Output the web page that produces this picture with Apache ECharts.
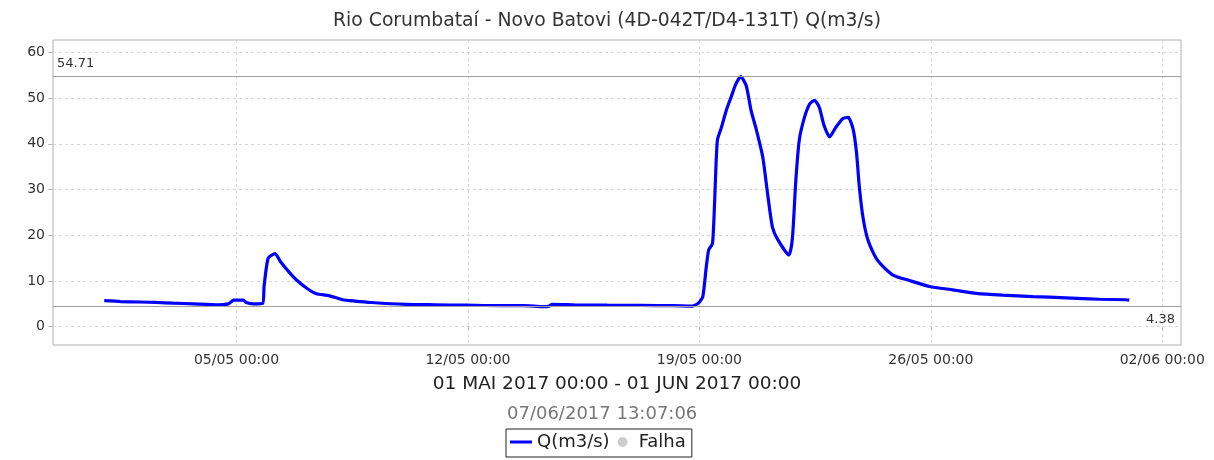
<!DOCTYPE html>
<html>
<head>
<meta charset="utf-8">
<script src="https://cdn.jsdelivr.net/npm/echarts@6/dist/echarts.min.js"></script>
<style>
  html, body { margin: 0; padding: 0; background: #ffffff; }
  #chart { width: 1214px; height: 460px; }
</style>
</head>
<body>
<div id="chart"></div>
<script>
// Flow readings, Rio Corumbataí at Novo Batovi, May 2017
const times = [
  '2017-05-01 00:00', '2017-05-01 12:00', '2017-05-02 02:00', '2017-05-02 14:00', '2017-05-03 02:00',
  '2017-05-03 17:00', '2017-05-04 10:00', '2017-05-04 18:00', '2017-05-04 22:00', '2017-05-05 05:00',
  '2017-05-05 07:00', '2017-05-05 12:00', '2017-05-05 19:00', '2017-05-05 20:00', '2017-05-05 23:00',
  '2017-05-06 04:00', '2017-05-06 08:00', '2017-05-06 14:00', '2017-05-06 20:00', '2017-05-07 03:00',
  '2017-05-07 10:00', '2017-05-07 19:00', '2017-05-08 05:00', '2017-05-08 14:00', '2017-05-09 02:00',
  '2017-05-10 03:00', '2017-05-11 00:00', '2017-05-11 23:00', '2017-05-13 00:00', '2017-05-13 16:00',
  '2017-05-14 00:00', '2017-05-14 06:00', '2017-05-14 11:00', '2017-05-14 13:00', '2017-05-15 05:00',
  '2017-05-16 05:00', '2017-05-17 05:00', '2017-05-18 05:00', '2017-05-18 19:00', '2017-05-18 23:30',
  '2017-05-19 02:30', '2017-05-19 05:00', '2017-05-19 06:45', '2017-05-19 09:30', '2017-05-19 11:00',
  '2017-05-19 13:00', '2017-05-19 16:00', '2017-05-19 19:30', '2017-05-19 23:00', '2017-05-20 02:30',
  '2017-05-20 06:00', '2017-05-20 10:00', '2017-05-20 13:30', '2017-05-20 17:30', '2017-05-20 22:00',
  '2017-05-21 01:30', '2017-05-21 05:00', '2017-05-21 09:00', '2017-05-21 17:00', '2017-05-21 19:30',
  '2017-05-21 22:00', '2017-05-22 00:30', '2017-05-22 04:00', '2017-05-22 08:00', '2017-05-22 11:30',
  '2017-05-22 15:00', '2017-05-22 18:30', '2017-05-22 22:30', '2017-05-23 03:00', '2017-05-23 08:00',
  '2017-05-23 12:00', '2017-05-23 15:30', '2017-05-23 18:00', '2017-05-23 20:00', '2017-05-23 22:30',
  '2017-05-24 02:00', '2017-05-24 07:00', '2017-05-24 11:00', '2017-05-24 20:30', '2017-05-25 08:30',
  '2017-05-25 23:00', '2017-05-26 16:00', '2017-05-27 09:00', '2017-05-28 04:00', '2017-05-29 02:00',
  '2017-05-30 02:00', '2017-05-31 02:30', '2017-05-31 21:30', '2017-06-01 00:00'
];
const flow = [
  5.7, 5.5, 5.4, 5.3, 5.15,
  5.0, 4.8, 5.0, 5.8, 5.8,
  5.3, 5.0, 5.1, 8.8, 15.0,
  16.0, 14.2, 12.0, 10.1, 8.4,
  7.2, 6.8, 5.9, 5.6, 5.3,
  4.9, 4.8, 4.7, 4.6, 4.6,
  4.5, 4.38, 4.5, 4.9, 4.8,
  4.7, 4.65, 4.6, 4.5, 5.2,
  6.6, 13.1, 16.8, 18.2, 26.9,
  40.7, 43.6, 47.3, 50.2, 53.1,
  54.71, 52.7, 47.3, 42.9, 37.1,
  29.1, 21.8, 19.0, 15.7, 19.3,
  32.0, 40.8, 45.5, 48.7, 49.5,
  48.0, 44.0, 41.5, 43.6, 45.5,
  45.8, 43.3, 38.2, 30.9, 24.4,
  19.3, 15.7, 13.9, 11.3, 10.1,
  8.8, 8.06, 7.3, 6.9, 6.6,
  6.3, 6.0, 5.9, 5.8
];
const tickTimes = ['2017-05-05 00:00', '2017-05-12 00:00', '2017-05-19 00:00', '2017-05-26 00:00', '2017-06-02 00:00'];
const yTicks = [0, 10, 20, 30, 40, 50, 60];
const flowMax = 54.71;
const flowMin = 4.38;
const axisStart = '2017-04-29 10:48';
const axisEnd = '2017-06-02 13:35';
const titleText = 'Rio Corumbataí - Novo Batovi (4D-042T/D4-131T) Q(m3/s)';
const periodText = '01 MAI 2017 00:00 - 01 JUN 2017 00:00';
const stampText = '07/06/2017 13:07:06';
const seriesName = 'Q(m3/s)';
const failName = 'Falha';

function parseTime(s) {
  const [d, t] = s.split(' ');
  const [Y, M, D] = d.split('-').map(Number);
  const [h, mi] = t.split(':').map(Number);
  return new Date(Y, M - 1, D, h, mi).getTime();
}
function pad(n) { return String(n).padStart(2, '0'); }
function fmtTick(v) {
  const d = new Date(v);
  return pad(d.getDate()) + '/' + pad(d.getMonth() + 1) + ' ' + pad(d.getHours()) + ':' + pad(d.getMinutes());
}

const points = times.map((t, i) => [parseTime(t), flow[i]]);
const xTickValues = tickTimes.map(parseTime);
const FONT = 'DejaVu Sans';

const chart = echarts.init(document.getElementById('chart'), null, { renderer: 'canvas' });
chart.setOption({
  animation: false,
  backgroundColor: '#ffffff',
  textStyle: { fontFamily: FONT },
  title: [
    { text: titleText, left: 'center', top: 7,
      textStyle: { fontFamily: FONT, fontSize: 18.8, fontWeight: 'normal', color: '#333' } },
    { text: stampText, left: 502, top: 400,
      textStyle: { fontFamily: FONT, fontSize: 18, fontWeight: 'normal', color: '#777' } }
  ],
  legend: {
    left: 506, top: 429,
    padding: [4, 6, 6, 4],
    itemGap: 8,
    itemWidth: 22, itemHeight: 10,
    borderColor: '#222', borderWidth: 1,
    textStyle: { fontFamily: FONT, fontSize: 18, color: '#222' },
    data: [
      { name: seriesName, icon: 'path://M0,0H22V3H0Z' },
      { name: failName, icon: 'circle' }
    ]
  },
  grid: {
    left: 53, right: 33, top: 40, bottom: 115,
    show: true, borderColor: '#b0b0b0', borderWidth: 1
  },
  xAxis: {
    type: 'value',
    scale: true,
    min: parseTime(axisStart),
    max: parseTime(axisEnd),
    name: periodText,
    nameLocation: 'middle',
    nameGap: 30,
    nameTextStyle: { fontFamily: FONT, fontSize: 18.5, color: '#222' },
    axisLine: { show: false },
    axisTick: { show: true, length: 4, customValues: xTickValues, lineStyle: { color: '#bbb' } },
    axisLabel: { customValues: xTickValues, formatter: fmtTick, fontSize: 14, color: '#333', margin: 8 },
    splitLine: { show: true, lineStyle: { color: '#d8d8d8', type: [3, 3], width: 1 } }
  },
  yAxis: {
    type: 'value',
    min: -4.0,
    max: 62.7,
    axisLine: { show: false },
    axisTick: { show: true, length: 5, customValues: yTicks, lineStyle: { color: '#bbb' } },
    axisLabel: { customValues: yTicks, fontSize: 14, color: '#333', margin: 8 },
    splitLine: { show: true, lineStyle: { color: '#d8d8d8', type: [3, 3], width: 1 } }
  },
  series: [
    {
      name: seriesName,
      type: 'line',
      data: points,
      symbol: 'none',
      smooth: 0.2,
      color: '#0000ff',
      lineStyle: { color: '#0000ff', width: 3.2 },
      markLine: {
        silent: true,
        symbol: 'none',
        lineStyle: { color: '#a0a0a0', type: 'solid', width: 1 },
        data: [
          { yAxis: flowMax, label: { show: true, position: 'insideStartTop', formatter: String(flowMax),
              fontFamily: FONT, fontSize: 13, color: '#333', distance: [4, 6] } },
          { yAxis: flowMin, label: { show: true, position: 'insideEndBottom', formatter: String(flowMin),
              fontFamily: FONT, fontSize: 13, color: '#333', distance: [6, 6] } }
        ]
      }
    },
    {
      name: failName,
      type: 'scatter',
      data: [],
      symbol: 'circle',
      color: '#c0c0c0'
    }
  ]
});
</script>
</body>
</html>
